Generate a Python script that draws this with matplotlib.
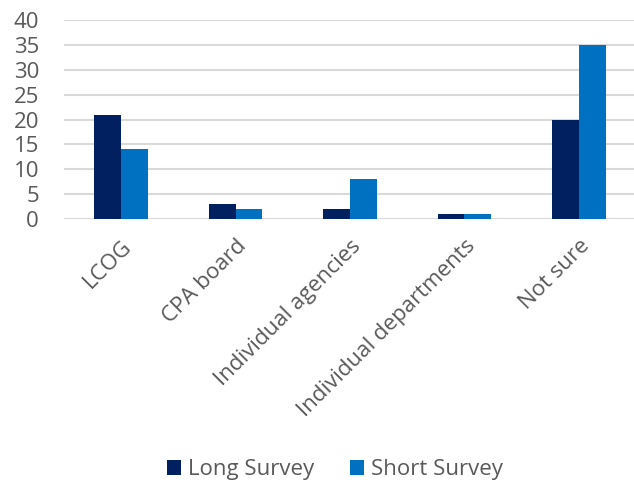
import matplotlib
matplotlib.use("Agg")
import matplotlib.pyplot as plt
import numpy as np

categories = ["LCOG", "CPA board", "Individual agencies", "Individual departments", "Not sure"]
long_survey = [21, 3, 2, 1, 20]
short_survey = [14, 2, 8, 1, 35]
series_names = ["Long Survey", "Short Survey"]
yticks = [0, 5, 10, 15, 20, 25, 30, 35, 40]

plt.rcParams['font.family'] = ['Open Sans', 'DejaVu Sans']
txt = '#595959'

fig = plt.figure(figsize=(6.34, 4.87), dpi=100)
ax = fig.add_axes([64/634, 1 - 219/487, (636-64)/634, 199/487])

x = np.arange(len(categories))
w = 0.235
ax.bar(x - w/2, long_survey, w, color='#002060', label=series_names[0], zorder=3)
ax.bar(x + w/2, short_survey, w, color='#0070C0', label=series_names[1], zorder=3)

ax.set_ylim(0, 40)
ax.set_xlim(-0.5, len(categories) - 0.5)
ax.set_yticks(yticks)
ax.yaxis.grid(True, color='#D9D9D9', linewidth=1.5, zorder=0)
ax.set_axisbelow(True)
for s in ax.spines.values():
    s.set_visible(False)
ax.tick_params(axis='both', length=0, labelsize=16, colors=txt)
ax.tick_params(axis='y', pad=18)
ax.set_xticks(x)
ax.set_xticklabels(categories, rotation=45, ha='right', rotation_mode='anchor')
ax.tick_params(axis='x', pad=12)
ax.axhline(0, color='#D9D9D9', linewidth=1.5, zorder=2)

leg = fig.legend(loc='center', bbox_to_anchor=(0.528, 1 - 470/487), ncol=2,
                 frameon=False, fontsize=16, handlelength=0.65, handleheight=0.65,
                 handletextpad=0.3, columnspacing=1.6)
for t in leg.get_texts():
    t.set_color(txt)

fig.savefig("out.png", dpi=100)
